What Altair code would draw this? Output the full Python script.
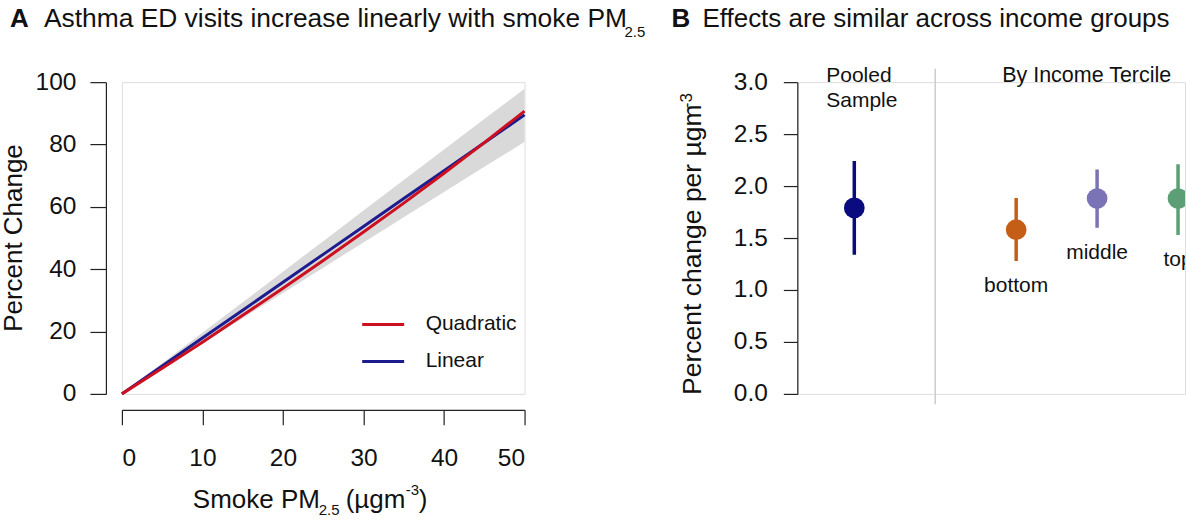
import altair as alt
import pandas as pd

FONT = "Liberation Sans"
INK = "#111111"

# ---------------- Panel A data ----------------
smoke_pm = [0, 5, 10, 15, 20, 25, 30, 35, 40, 45, 50]
linear_pct = [0, 8.95, 17.9, 26.85, 35.8, 44.75, 53.7, 62.65, 71.6, 80.55, 89.5]
quad_pct = [0, 8.2, 16.6, 25.2, 33.9, 42.8, 51.9, 61.2, 70.8, 80.6, 90.7]
ci_low = [0, 8.1, 16.2, 24.3, 32.4, 40.5, 48.6, 56.7, 64.8, 72.9, 80.8]
ci_high = [0, 9.8, 19.6, 29.4, 39.2, 49.0, 58.8, 68.6, 78.4, 88.2, 97.9]
model_names = ["Quadratic", "Linear"]
x_ticks_a = [0, 10, 20, 30, 40, 50]
y_ticks_a = [0, 20, 40, 60, 80, 100]

# ---------------- Panel B data ----------------
groups = ["Pooled", "bottom", "middle", "top"]
group_x = [1, 3, 4, 5]
estimate = [1.79, 1.58, 1.88, 1.88]
est_low = [1.34, 1.28, 1.60, 1.53]
est_high = [2.24, 1.885, 2.16, 2.21]
tercile_labels = ["bottom", "middle", "top"]
divider_x = [2]
divider_y = [-0.1, 3.13]
y_ticks_b = [0.0, 0.5, 1.0, 1.5, 2.0, 2.5, 3.0]

group_colors = ["#0b0b80", "#c45e16", "#7a73b5", "#5c9e76"]
model_colors = ["#cc1020", "#1c1c8f"]

W_A, H = 403, 312
W_B = 388

# ---------------- helpers ----------------
def label(s, x, y, size, weight="normal", angle=0, align="left", baseline="alphabetic"):
    return alt.Chart(pd.DataFrame({"t": [s]})).mark_text(
        font=FONT, fontSize=size, fontWeight=weight, angle=angle, align=align,
        baseline=baseline, color=INK,
    ).encode(x=alt.value(x), y=alt.value(y), text="t:N")


axis_common = dict(
    domainColor="#222222", tickColor="#222222", labelColor=INK,
    labelFont=FONT, labelFontSize=24.5, grid=False, title=None,
    domainWidth=1.2, tickWidth=1.2,
)

# ---------------- Panel A ----------------
curve = pd.DataFrame({"pm": smoke_pm, "lo": ci_low, "hi": ci_high})
lines = pd.concat([
    pd.DataFrame({"pm": smoke_pm, "pct": linear_pct, "model": "Linear"}),
    pd.DataFrame({"pm": smoke_pm, "pct": quad_pct, "model": "Quadratic"}),
])

xA = alt.X("pm:Q", scale=alt.Scale(domain=[0, 50], nice=False),
           axis=alt.Axis(values=x_ticks_a, offset=16, tickSize=15, labelPadding=22,
                         format="d", **axis_common))
yA_scale = alt.Scale(domain=[0, 100], nice=False)

band = alt.Chart(curve).mark_area(color="#d9d9d9").encode(
    x=xA,
    y=alt.Y("lo:Q", scale=yA_scale,
            axis=alt.Axis(values=y_ticks_a, offset=16, tickSize=16, labelPadding=14,
                          format="d", **axis_common)),
    y2="hi:Q",
)

color_model = alt.Color(
    "model:N",
    scale=alt.Scale(domain=model_names, range=model_colors),
    legend=alt.Legend(
        orient="none", legendX=251, legendY=232, title=None,
        symbolType="M-3,0H3", symbolSize=196, symbolStrokeWidth=3,
        labelFont=FONT, labelFontSize=21, labelColor=INK, labelOffset=32,
        rowPadding=15,
    ),
)

line_lin = alt.Chart(lines).transform_filter(alt.datum.model == "Linear").mark_line(
    strokeWidth=3).encode(x="pm:Q", y=alt.Y("pct:Q", scale=yA_scale), color=color_model)
line_quad = alt.Chart(lines).transform_filter(alt.datum.model == "Quadratic").mark_line(
    strokeWidth=3).encode(x="pm:Q", y=alt.Y("pct:Q", scale=yA_scale), color=color_model)

texts_a = [
    label("A", -112, -55, 26, weight="bold"),
    label("Asthma ED visits increase linearly with smoke PM", -78, -55, 26.4),
    label("2.5", 503, -45, 15),
    label("Percent Change", -100, 156, 26, angle=270, align="center"),
    label("Smoke PM", 71, 426, 26),
    label("2.5", 197, 433, 15),
    label("(\u00b5gm", 224, 426, 26),
    label("-3", 284, 413, 15),
    label(")", 297, 426, 26),
]

panel_a = alt.layer(band, line_lin, line_quad, *texts_a).properties(width=W_A, height=H)

# ---------------- Panel B ----------------
eff = pd.DataFrame({"group": groups, "gx": group_x, "est": estimate,
                    "lo": est_low, "hi": est_high})
terc = eff[eff["group"].isin(tercile_labels)]
div = pd.DataFrame({"gx": divider_x * 2, "y": divider_y})

xB = alt.X("gx:Q", scale=alt.Scale(domain=[0.296, 0.296 + W_B / 81], nice=False), axis=None)
yB_scale = alt.Scale(domain=[0, 3], nice=False)
color_group = alt.Color("group:N", scale=alt.Scale(domain=groups, range=group_colors), legend=None)

divider = alt.Chart(div).mark_line(color="#cccccc", strokeWidth=1.5, clip=False).encode(
    x=xB,
    y=alt.Y("y:Q", scale=yB_scale,
            axis=alt.Axis(values=y_ticks_b, offset=0, tickSize=14, labelPadding=16,
                          format=".1f", **axis_common)),
)
bars = alt.Chart(eff).mark_rule(strokeWidth=3.5, clip=True).encode(
    x=xB, y=alt.Y("lo:Q", scale=yB_scale), y2="hi:Q", color=color_group)
points = alt.Chart(eff).mark_circle(size=430, opacity=1, clip=True).encode(
    x=xB, y=alt.Y("est:Q", scale=yB_scale), color=color_group)
terc_text = alt.Chart(terc).mark_text(
    font=FONT, fontSize=21, color=INK, dy=25, baseline="middle", align="center", clip=True
).encode(x=xB, y=alt.Y("lo:Q", scale=yB_scale), text="group:N")

texts_b = [
    label("B", -126, -55, 26, weight="bold"),
    label("Effects are similar across income groups", -95, -55, 26),
    label("Percent change per \u00b5gm", -96, 313, 26.5, angle=270, align="left"),
    label("-3", -105, 26, 17, angle=270, align="left"),
    label("Pooled", 29, 0, 21),
    label("Sample", 29, 25, 21),
    label("By Income Tercile", 205, 0, 21.5),
]

panel_b = alt.layer(divider, bars, points, terc_text, *texts_b).properties(width=W_B, height=H)

chart = alt.hconcat(panel_a, panel_b, spacing=24).resolve_scale(color="independent").properties(
    padding={"left": 0, "top": 5, "right": 0, "bottom": 0}
).configure_view(stroke=None).configure(font=FONT)

chart.save("out.html", embed_options={"renderer": "svg", "actions": False})
